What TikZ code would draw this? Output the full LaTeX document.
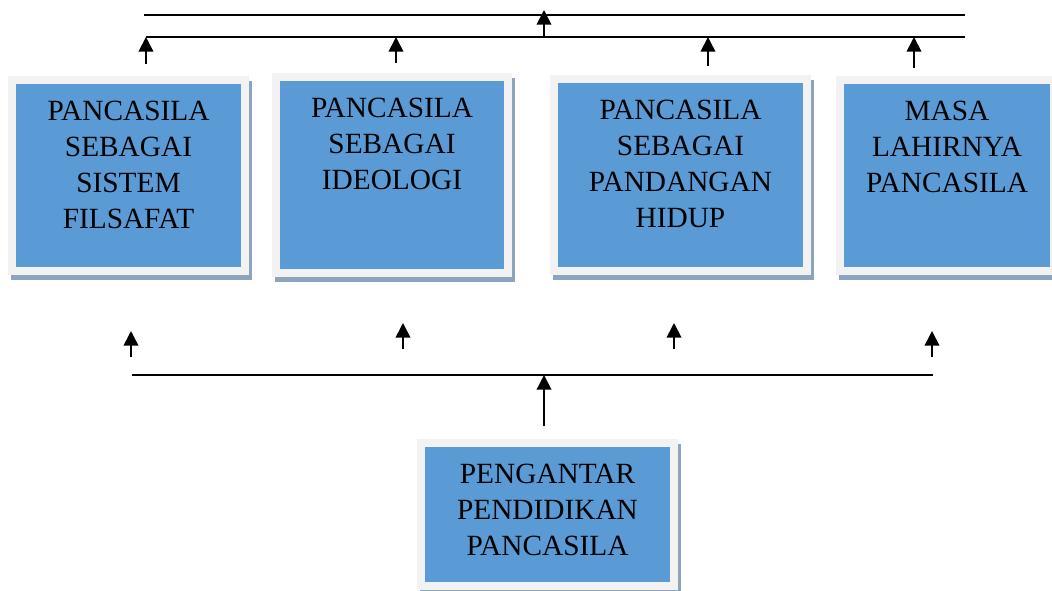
\documentclass[tikz,border=0pt]{standalone}
\usepackage{fontspec}
\setmainfont{Liberation Serif}
\usetikzlibrary{arrows.meta,shadows}

\definecolor{boxblue}{RGB}{91,155,213}
\definecolor{framegrey}{RGB}{242,242,242}
\definecolor{shadowblue}{RGB}{141,164,190}

\tikzset{
  box/.style={rectangle, inner sep=0pt, fill=boxblue, draw=framegrey, line width=6pt,
    drop shadow={shadow xshift=2.25pt, shadow yshift=-3.75pt, fill=shadowblue,
      draw=shadowblue, line width=6pt, opacity=1}},
  boxtext/.style={anchor=north, inner sep=0pt, align=center,
    font=\fontsize{22pt}{27pt}\selectfont},
  bar/.style={line width=1.3pt},
  uparrow/.style={line width=1.3pt, -{Triangle[length=11pt,width=11pt]}}
}

\begin{document}
\begin{tikzpicture}[x=0.75pt,y=-0.75pt]
  \useasboundingbox (0,0) rectangle (1052,590);
  \clip (0,0) rectangle (1052,590);

  % boxes
  \node[box, minimum width=233*0.75pt, minimum height=191*0.75pt] (filsafat) at (128.5,175.5) {};
  \node[box, minimum width=232*0.75pt, minimum height=196*0.75pt] (ideologi) at (392,175) {};
  \node[box, minimum width=253*0.75pt, minimum height=192*0.75pt] (pandangan) at (680.5,175) {};
  \node[box, minimum width=214*0.75pt, minimum height=191*0.75pt] (masa) at (947,175.5) {};
  \node[box, minimum width=253*0.75pt, minimum height=143*0.75pt] (pengantar) at (547.5,514.5) {};

  % texts
  \node[boxtext] (filsafat-txt) at ([yshift=-18.5pt]filsafat.north) {PANCASILA\\SEBAGAI\\SISTEM\\FILSAFAT};
  \node[boxtext] (ideologi-txt) at ([yshift=-18.5pt]ideologi.north) {PANCASILA\\SEBAGAI\\IDEOLOGI};
  \node[boxtext] (pandangan-txt) at ([yshift=-18.5pt]pandangan.north) {PANCASILA\\SEBAGAI\\PANDANGAN\\HIDUP};
  \node[boxtext] (masa-txt) at ([yshift=-18.5pt]masa.north) {MASA\\LAHIRNYA\\PANCASILA};
  \node[boxtext] (pengantar-txt) at ([yshift=-18.5pt]pengantar.north) {PENGANTAR\\PENDIDIKAN\\PANCASILA};

  % upper bars
  \coordinate (topL) at (144,15);
  \coordinate (topR) at (965,15);
  \coordinate (upperL) at (146,37);
  \coordinate (upperR) at (965,37);
  \coordinate (upperMid) at (544,37);
  \draw[bar] (topL) -- (topR);
  \draw[bar] (upperL) -- (upperR);
  \draw[uparrow] (upperMid) -- ++(0,-27);

  \path ([xshift=13.1pt,yshift=9pt]filsafat.north) coordinate (f1);
  \path ([xshift=3pt,yshift=7.5pt]ideologi.north) coordinate (f2);
  \path ([xshift=20.6pt,yshift=6.75pt]pandangan.north) coordinate (f3);
  \path ([xshift=-24.75pt,yshift=6pt]masa.north) coordinate (f4);
  \foreach \f in {f1,f2,f3,f4}
    \draw[uparrow] (\f) -- (\f |- upperL);

  % lower bar
  \coordinate (lowL) at (132,375);
  \coordinate (lowR) at (933,375);
  \draw[bar] (lowL) -- (lowR);
  \path ([xshift=-2.6pt,yshift=9.75pt]pengantar.north) coordinate (p1);
  \draw[uparrow] (p1) -- (p1 |- lowL);

  \foreach \x/\ya/\yb in {131/357/331, 403/349/323, 674/349/323, 932/357/331}
    \draw[uparrow] (\x,\ya) -- (\x,\yb);
\end{tikzpicture}
\end{document}
